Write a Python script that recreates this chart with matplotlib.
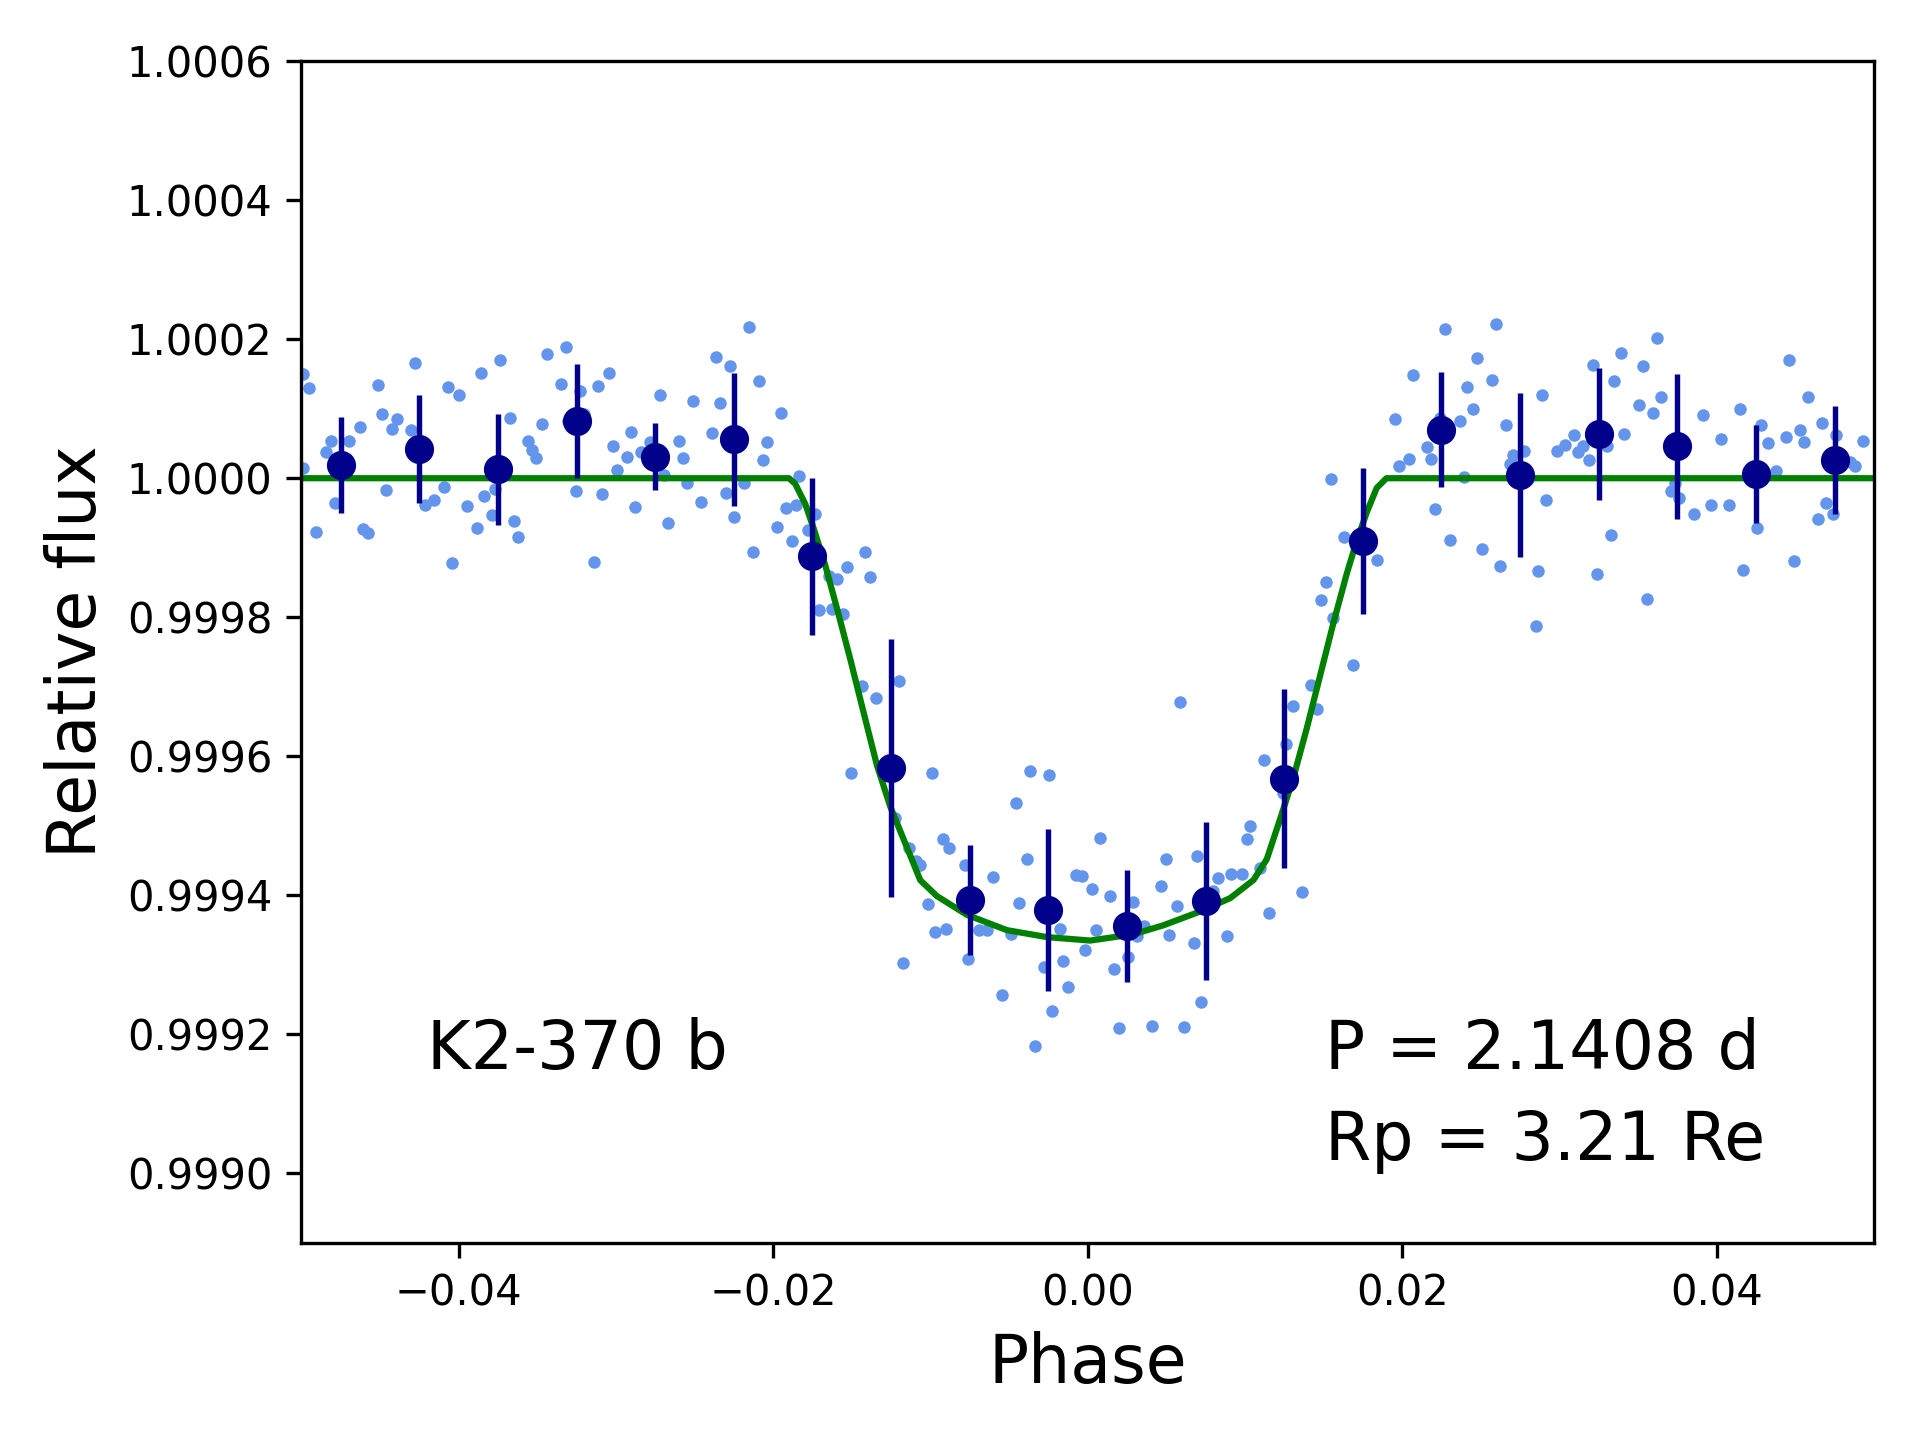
import matplotlib
matplotlib.use("Agg")
import matplotlib.pyplot as plt
import numpy as np

# unbinned points: (phase in units of 1e-3, flux offset in ppm)
pts_left = [
    (-49.89, 150), (-49.53, 130), (-49.90, 15), (-49.05, -77), (-48.14, 54), (-48.41, 37),
    (-47.88, -36), (-46.99, 54), (-46.29, 74), (-46.08, -73), (-45.76, -79), (-45.15, 134),
    (-44.89, 93), (-44.64, -17), (-44.21, 71), (-43.94, 85), (-43.05, 70), (-42.80, 165),
    (-42.12, -38), (-41.59, -31), (-40.95, -13), (-40.70, 131), (-40.44, -122), (-40.00, 120),
    (-39.49, -40), (-38.85, -72), (-38.60, 152), (-38.37, -26), (-37.90, -53), (-37.71, -15),
    (-37.39, 170), (-36.76, 87), (-36.50, -62), (-36.25, -85), (-35.59, 53), (-35.32, 40),
    (-35.10, 29), (-34.68, 78), (-34.40, 178), (-33.51, 136), (-33.20, 189), (-33.05, 82),
    (-32.56, -19), (-32.31, 126), (-32.03, 92), (-31.42, -120), (-31.16, 133), (-30.91, -22),
    (-30.46, 152), (-30.21, 47), (-29.95, 12), (-29.32, 31), (-29.06, 67), (-28.81, -41),
    (-28.43, 37), (-27.86, 52), (-27.22, 119), (-26.97, 5), (-26.71, -64), (-26.01, 54),
    (-25.76, 29), (-25.50, -7), (-25.12, 111), (-24.61, -34), (-23.92, 65), (-23.66, 175),
    (-23.41, 108), (-23.03, -21), (-22.77, 162), (-22.52, -56), (-21.88, -7), (-21.56, 218),
    (-21.31, -106), (-20.93, 140), (-20.67, 26), (-20.42, 52), (-19.78, -70), (-19.49, 94),
    (-19.21, -43), (-18.83, -90), (-18.55, -38), (-18.34, 3), (-17.79, -74), (-17.37, -52),
]

pts_dip = [
    (-17.11, -189), (-16.27, -188), (-15.57, -196), (-16.48, -140), (-15.95, -145), (-15.31, -127),
    (-14.13, -106), (-13.87, -142), (-14.36, -299), (-13.49, -316), (-12.03, -292), (-15.04, -424),
    (-9.93, -424), (-12.24, -488), (-11.39, -532), (-10.90, -550), (-10.65, -556), (-9.23, -519),
    (-8.79, -532), (-7.83, -556), (-10.18, -613), (-9.70, -653), (-9.02, -648), (-11.77, -697),
    (-7.58, -691), (-6.94, -650), (-6.41, -650), (-5.99, -574), (-5.48, -744), (-4.87, -656),
    (-4.34, -611), (-4.59, -467), (-3.89, -548), (-3.64, -421), (-2.49, -427), (-2.75, -703),
    (-1.79, -648), (-1.60, -694), (-1.28, -732), (-2.24, -766), (-3.38, -817), (-0.73, -571),
    (-0.37, -572), (-0.14, -679), (0.30, -591), (0.50, -650), (0.81, -517), (1.45, -601),
    (1.70, -706), (1.96, -791), (2.59, -689), (2.91, -610), (3.55, -644), (3.12, -658),
    (4.06, -788), (4.69, -587), (4.97, -548), (5.20, -657), (5.65, -615), (5.90, -322),
    (6.15, -790), (6.75, -669), (6.94, -544), (7.19, -753),
    (8.00, -593), (8.27, -575), (8.89, -658), (9.12, -569), (9.82, -569), (10.10, -519),
    (10.35, -500), (10.97, -561), (11.50, -625), (11.24, -405), (12.41, -453), (12.64, -382),
    (13.08, -328), (13.61, -595), (14.21, -297), (14.57, -332), (14.82, -175), (15.18, -149),
    (15.63, -201), (15.46, -1), (16.90, -268), (28.53, -213),
]

pts_right = [
    (16.30, -85), (18.38, -117), (19.55, 85), (19.80, 17), (20.42, 28), (20.69, 149),
    (21.60, 45), (21.86, 28), (22.11, -44), (22.41, 86), (22.75, 215), (23.04, -89),
    (23.68, 82), (23.93, 2), (24.14, 131), (24.53, 100), (24.78, 173), (25.10, -102),
    (25.71, 141), (25.97, 222), (26.22, -126), (26.60, 77), (26.86, 20), (27.07, 33),
    (27.77, 39), (28.02, -1), (28.66, -134), (28.89, 119), (29.15, -31), (29.82, 39),
    (30.35, 48), (30.95, 62), (31.20, 37), (31.48, 46), (31.88, 26), (32.15, 163),
    (32.37, -138), (33.00, 47), (33.26, -82), (33.49, 140), (33.93, 180), (34.10, 64),
    (35.06, 106), (35.29, 161), (35.54, -174), (35.97, 94), (36.18, 201), (36.48, 117),
    (37.09, -19), (37.35, -7), (37.62, -28), (38.53, -52), (39.15, 91), (39.63, -39),
    (40.27, 57), (40.78, -38), (41.46, 100), (41.69, -132), (42.56, -72), (42.81, 77),
    (43.28, 51), (43.75, 10), (44.38, 59), (44.63, 170), (44.89, -119), (45.29, 69),
    (45.55, 52), (45.82, 117), (46.44, -59), (46.69, 80), (46.94, -36), (47.37, -52),
    (47.62, 62), (48.47, 24), (48.79, 17), (49.28, 54),
]

# binned points
bin_phase = [-0.0475, -0.0425, -0.0375, -0.0325, -0.0275, -0.0225, -0.0175, -0.0125, -0.0075, -0.0025,
             0.0025, 0.0075, 0.0125, 0.0175, 0.0225, 0.0275, 0.0325, 0.0375, 0.0425, 0.0475]
bin_ppm = [19, 42, 13, 82, 31, 56, -112, -417, -607, -621,
           -644, -608, -432, -90, 70, 4, 63, 46, 6, 26]
bin_err_ppm = [69, 78, 80, 82, 48, 96, 113, 186, 79, 116,
               80, 113, 129, 105, 83, 118, 95, 104, 71, 78]

# transit model
model_phase = [-50, -19.0, -18.6, -17.96, -17.43, -16.69, -15.84, -15.10, -14.25, -13.40, -12.56,
               -11.71, -10.65, -9.59, -7.68, -5.14, -2.60, 0.16, 2.91, 4.82, 6.94, 9.06, 10.54,
               11.39, 12.24, 13.08, 13.93, 14.78, 15.63, 16.48, 17.11, 17.75, 18.38, 19.0, 50]
model_ppm = [0, 0, -8, -37, -72, -125, -196, -260, -337, -413, -472,
             -519, -578, -601, -628, -650, -660, -665, -656, -643, -625, -604, -578,
             -548, -490, -431, -360, -284, -208, -137, -90, -49, -14, 0, 0]

pts = np.array(pts_left + pts_dip + pts_right)
phase = pts[:, 0] / 1000
flux = 1 + pts[:, 1] * 1e-6

fig = plt.figure(figsize=(6.4, 4.8), dpi=300)
ax = fig.add_subplot(111)
fig.subplots_adjust(left=0.157, right=0.976, top=0.9576, bottom=0.1368)

ax.scatter(phase, flux, s=9, color='cornflowerblue', linewidths=0, zorder=1)
ax.plot(np.array(model_phase) / 1000, 1 + np.array(model_ppm) * 1e-6, color='green', lw=1.5, zorder=2)
ax.errorbar(bin_phase, 1 + np.array(bin_ppm) * 1e-6, yerr=np.array(bin_err_ppm) * 1e-6,
            fmt='o', color='darkblue', ms=6, elinewidth=1.3, capsize=0, zorder=3)

ax.set_xlim(-0.05, 0.05)
ax.set_ylim(0.9989, 1.0006)
ax.set_xticks([-0.04, -0.02, 0.0, 0.02, 0.04])
ax.set_yticks(np.arange(0.9990, 1.00061, 0.0002))
ax.yaxis.set_major_formatter(matplotlib.ticker.FormatStrFormatter('%.4f'))
ax.tick_params(labelsize=10)

ax.set_xlabel('Phase', fontsize=16)
ax.set_ylabel('Relative flux', fontsize=16)

ax.text(-0.0420, 0.99915, 'K2-370 b', fontsize=16, ha='left', va='baseline')
ax.text(0.0151, 0.99915, 'P = 2.1408 d', fontsize=16, ha='left', va='baseline')
ax.text(0.0151, 0.99902, 'Rp = 3.21 Re', fontsize=16, ha='left', va='baseline')

fig.savefig('out.png', dpi=300)
